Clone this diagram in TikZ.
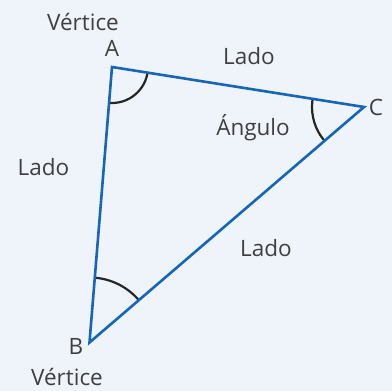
\documentclass[tikz,border=0pt]{standalone}
\usepackage{fontspec}
\setmainfont{Open Sans}
\definecolor{bg}{HTML}{EFF4FB}
\definecolor{side}{HTML}{1565B8}
\definecolor{txt}{HTML}{3F3F3F}
\begin{document}
\begin{tikzpicture}[x=1pt,y=-1pt,
  lbl/.style={text=txt,font=\fontsize{22.5}{26}\selectfont,inner sep=0pt},
  sideline/.style={draw=side,line width=2.6pt,line join=miter},
  anglearc/.style={draw=black!85,line width=2.2pt}]
\fill[bg] (0,0) rectangle (392,391);
\useasboundingbox (0,0) rectangle (392,391);
\coordinate (A) at (112,67);
\coordinate (C) at (364,107);
\coordinate (B) at (89.5,342.5);
% angle arcs
\begin{scope}
\clip (A) -- (C) -- (B) -- cycle;
\draw[anglearc] (A) circle[radius=36];
\draw[anglearc] (C) circle[radius=52];
\draw[anglearc] (B) circle[radius=65];
\end{scope}
\draw[sideline] (A) -- (C) -- (B) -- cycle;
\node[lbl] (vA) at (83,22) {Vértice};
\node[lbl] (lA) at (112,48) {A};
\node[lbl] (l1) at (249,56) {Lado};
\node[lbl] (ang) at (253,128) {Ángulo};
\node[lbl] (lC) at (376,107) {C};
\node[lbl] (l2) at (43.5,167) {Lado};
\node[lbl] (l3) at (266,248) {Lado};
\node[lbl] (lB) at (76,346) {B};
\node[lbl] (vB) at (67,377) {Vértice};
\end{tikzpicture}
\end{document}
